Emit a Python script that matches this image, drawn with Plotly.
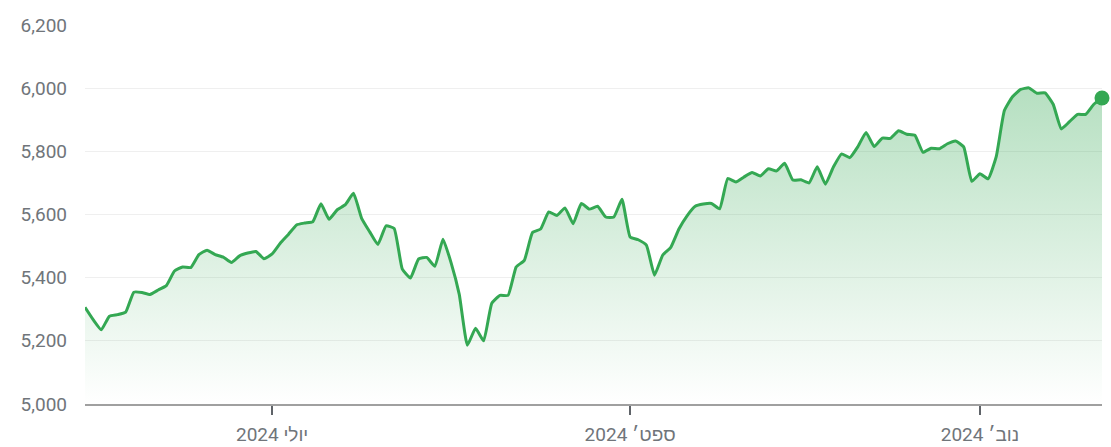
import plotly.graph_objects as go

dates = [
    "2024-05-28", "2024-05-29", "2024-05-30", "2024-05-31",
    "2024-06-03", "2024-06-04", "2024-06-05", "2024-06-06", "2024-06-07",
    "2024-06-10", "2024-06-11", "2024-06-12", "2024-06-13", "2024-06-14",
    "2024-06-17", "2024-06-18", "2024-06-20", "2024-06-21",
    "2024-06-24", "2024-06-25", "2024-06-26", "2024-06-27", "2024-06-28",
    "2024-07-01", "2024-07-02", "2024-07-03", "2024-07-05",
    "2024-07-08", "2024-07-09", "2024-07-10", "2024-07-11", "2024-07-12",
    "2024-07-15", "2024-07-16", "2024-07-17", "2024-07-18", "2024-07-19",
    "2024-07-22", "2024-07-23", "2024-07-24", "2024-07-25", "2024-07-26",
    "2024-07-29", "2024-07-30", "2024-07-31",
    "2024-08-01", "2024-08-02",
    "2024-08-05", "2024-08-06", "2024-08-07", "2024-08-08", "2024-08-09",
    "2024-08-12", "2024-08-13", "2024-08-14", "2024-08-15", "2024-08-16",
    "2024-08-19", "2024-08-20", "2024-08-21", "2024-08-22", "2024-08-23",
    "2024-08-26", "2024-08-27", "2024-08-28", "2024-08-29", "2024-08-30",
    "2024-09-03", "2024-09-04", "2024-09-05", "2024-09-06",
    "2024-09-09", "2024-09-10", "2024-09-11", "2024-09-12", "2024-09-13",
    "2024-09-16", "2024-09-17", "2024-09-18", "2024-09-19", "2024-09-20",
    "2024-09-23", "2024-09-24", "2024-09-25", "2024-09-26", "2024-09-27",
    "2024-09-30",
    "2024-10-01", "2024-10-02", "2024-10-03", "2024-10-04",
    "2024-10-07", "2024-10-08", "2024-10-09", "2024-10-10", "2024-10-11",
    "2024-10-14", "2024-10-15", "2024-10-16", "2024-10-17", "2024-10-18",
    "2024-10-21", "2024-10-22", "2024-10-23", "2024-10-24", "2024-10-25",
    "2024-10-28", "2024-10-29", "2024-10-30", "2024-10-31",
    "2024-11-01",
    "2024-11-04", "2024-11-05", "2024-11-06", "2024-11-07", "2024-11-08",
    "2024-11-11", "2024-11-12", "2024-11-13", "2024-11-14", "2024-11-15",
    "2024-11-18", "2024-11-19", "2024-11-20", "2024-11-21", "2024-11-22",
]

closes = [
    5306, 5267, 5235, 5278,
    5283, 5291, 5354, 5353, 5347,
    5361, 5375, 5421, 5434, 5432,
    5473, 5487, 5473, 5465,
    5448, 5469, 5478, 5483, 5460,
    5475, 5509, 5537, 5567,
    5573, 5577, 5634, 5585, 5615,
    5631, 5667, 5588, 5545, 5505,
    5564, 5556, 5427, 5399, 5459,
    5464, 5436, 5522,
    5447, 5347,
    5186, 5240, 5200, 5319, 5344,
    5344, 5434, 5455, 5543, 5554,
    5608, 5597, 5621, 5571, 5635,
    5617, 5626, 5592, 5592, 5648,
    5529, 5520, 5503, 5408,
    5471, 5496, 5554, 5596, 5626,
    5633, 5635, 5618, 5714, 5703,
    5719, 5733, 5722, 5745, 5738,
    5762,
    5709, 5710, 5700, 5751,
    5696, 5751, 5792, 5780, 5815,
    5860, 5815, 5842, 5841, 5865,
    5854, 5851, 5797, 5810, 5808,
    5824, 5833, 5814, 5705,
    5729,
    5713, 5783, 5929, 5973, 5996,
    6001, 5984, 5985, 5949, 5871,
    5894, 5917, 5917, 5949, 5969,
]

tick_months = ["2024-07", "2024-09", "2024-11"]
tick_labels = ["יולי 2024", "ספט׳ 2024", "נוב׳ 2024"]
y_ticks = [5000, 5200, 5400, 5600, 5800, 6000, 6200]

GREEN = "#34a853"

idx = list(range(len(dates)))
tick_pos = [next(i for i, d in enumerate(dates) if d.startswith(m)) for m in tick_months]

fig = go.Figure()
fig.add_trace(go.Scatter(
    x=idx, y=closes, mode="lines",
    line=dict(color=GREEN, width=3, shape="spline", smoothing=0.4),
    fill="tozeroy",
    fillgradient=dict(
        type="vertical", start=5000, stop=6050,
        colorscale=[[0, "rgba(52,168,83,0.0)"], [1, "rgba(52,168,83,0.38)"]],
    ),
    hoverinfo="skip", showlegend=False,
))
fig.add_trace(go.Scatter(
    x=[idx[-1]], y=[closes[-1]], mode="markers",
    marker=dict(color=GREEN, size=15),
    hoverinfo="skip", showlegend=False, cliponaxis=False,
))

font_family = "Roboto, 'Liberation Sans', Arial, sans-serif"

fig.update_layout(
    width=1111, height=447,
    margin=dict(l=85, r=9, t=25, b=43),
    paper_bgcolor="white", plot_bgcolor="white",
    font=dict(family=font_family, size=19, color="#70757a"),
    xaxis=dict(
        range=[0, len(dates) - 1],
        tickmode="array", tickvals=tick_pos, ticktext=tick_labels,
        showgrid=False, zeroline=False, automargin=False,
        showline=True, linecolor="#a0a0a0", linewidth=2,
        ticks="outside", ticklen=9, tickwidth=2, tickcolor="#5f6368",
        ticklabelstandoff=3,
        tickfont=dict(size=19, color="#70757a"),
    ),
    yaxis=dict(
        range=[5000, 6200],
        tickmode="array", tickvals=y_ticks, tickformat=",",
        showgrid=True, gridcolor="#efefef", gridwidth=1,
        zeroline=False, showline=False, ticks="", automargin=False,
        ticklabelstandoff=17,
        tickfont=dict(size=19, color="#70757a"),
    ),
)

fig.write_html(
    "out.html",
    config={"displayModeBar": False},
    post_script="document.body.style.margin='0px'; document.body.style.overflow='hidden';",
)
